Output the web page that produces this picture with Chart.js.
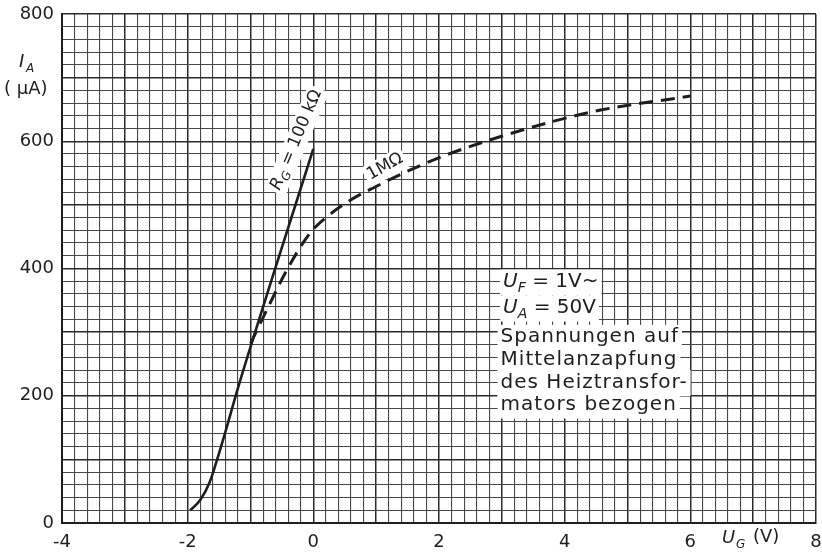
<!DOCTYPE html>
<html>
<head>
<meta charset="utf-8">
<script src="https://cdn.jsdelivr.net/npm/chart.js@4"></script>
<style>
  html, body { margin: 0; padding: 0; background: #fff; }
  #wrap { width: 822px; height: 556px; }
</style>
</head>
<body>
<div id="wrap"><canvas id="tubeChart" width="822" height="556"></canvas></div>
<script>
// Kennlinien I_A(U_G)
const rg100kX = [-1.96, -1.8, -1.65, -1.5, -1.38, -1.2, -0.6, 0.0];
const rg100kY = [20, 36, 64, 110, 150, 212, 402, 588];
const rg1MX = [-1.0, -0.74, -0.42, -0.05, 0.2, 0.6, 1.0, 1.5, 2.13, 2.97, 3.77, 4.57, 6.0];
const rg1MY = [282, 335, 398, 456, 480, 508, 529, 553, 579, 607, 630, 649, 671];
const xTickLabels = [-4, -2, 0, 2, 4, 6, 8];
const yTickLabels = [0, 200, 400, 600, 800];
const infoLines = ['Spannungen auf', 'Mittelanzapfung', 'des Heiztransfor-', 'mators bezogen'];

const FONT = '"DejaVu Sans", sans-serif';
const INK = '#1e1e1e';

function toPts(xs, ys) {
    return xs.map((x, i) => ({ x: x, y: ys[i] }));
}

function near(v, step) {
    return Math.abs(v / step - Math.round(v / step)) < 1e-6;
}

// Text mit weissem Hintergrund, optional gedreht; (x,y) = linke Mitte
function boxedText(ctx, parts, x, y, angle, size, spacing, center) {
    ctx.save();
    ctx.translate(x, y);
    ctx.rotate(angle * Math.PI / 180);
    ctx.letterSpacing = (spacing || 0) + 'px';
    const setFont = p => {
        ctx.font = (p.it ? 'italic ' : '') + (p.sub ? Math.round(size * 0.7) : size) + 'px ' + FONT;
    };
    let w = 0;
    parts.forEach(p => { setFont(p); w += ctx.measureText(p.t).width; });
    const x0 = center ? -w / 2 : 0;
    ctx.fillStyle = '#fff';
    ctx.fillRect(x0 - 3, -size * 0.62, w + 6, size * 1.3);
    let cx = x0;
    ctx.fillStyle = INK;
    ctx.textBaseline = 'middle';
    ctx.textAlign = 'left';
    parts.forEach(p => {
        setFont(p);
        ctx.fillText(p.t, cx, p.sub ? size * 0.32 : 0);
        cx += ctx.measureText(p.t).width;
    });
    ctx.restore();
}

const labelPlugin = {
    id: 'labels',
    afterDatasetsDraw(chart) {
        const ctx = chart.ctx;
        const xs = chart.scales.x, ys = chart.scales.y;
        const px = v => xs.getPixelForValue(v);
        const py = v => ys.getPixelForValue(v);

        boxedText(ctx, [{ t: 'R', it: true }, { t: 'G', it: true, sub: true }, { t: ' = 100 kΩ' }],
            px(-0.27), py(602), -67, 17, 0, true);
        boxedText(ctx, [{ t: '1MΩ' }], px(1.14), py(560), -29, 17, 0, true);

        boxedText(ctx, [{ t: 'U', it: true }, { t: 'F', it: true, sub: true }, { t: ' = 1V~' }],
            px(3.02), py(379), 0, 20, 0);
        boxedText(ctx, [{ t: 'U', it: true }, { t: 'A', it: true, sub: true }, { t: ' = 50V' }],
            px(3.02), py(338), 0, 20, 0);
        infoLines.forEach((s, i) => {
            boxedText(ctx, [{ t: s }], px(2.98), py(292 - i * 35.5), 0, 20, 1);
        });

        // Achsentitel
        ctx.save();
        ctx.fillStyle = INK;
        ctx.textBaseline = 'middle';
        ctx.font = 'italic 18px ' + FONT;
        ctx.fillText('I', 19, 62);
        ctx.font = 'italic 12px ' + FONT;
        ctx.fillText('A', 26, 69);
        ctx.font = '18px ' + FONT;
        ctx.fillText('( µA)', 4, 89);

        ctx.font = 'italic 18px ' + FONT;
        ctx.fillText('U', 722, 538);
        ctx.font = 'italic 12px ' + FONT;
        ctx.fillText('G', 736, 545);
        ctx.font = '18px ' + FONT;
        ctx.fillText('(V)', 753, 537);
        ctx.restore();
    }
};

new Chart(document.getElementById('tubeChart').getContext('2d'), {
    type: 'scatter',
    data: {
        datasets: [
            {
                label: 'RG = 100 kΩ',
                data: toPts(rg100kX, rg100kY),
                showLine: true,
                borderColor: INK,
                borderWidth: 2.6,
                pointRadius: 0,
                cubicInterpolationMode: 'monotone',
                fill: false
            },
            {
                label: '1 MΩ',
                data: toPts(rg1MX, rg1MY),
                showLine: true,
                borderColor: INK,
                borderWidth: 3,
                borderDash: [14, 8],
                pointRadius: 0,
                cubicInterpolationMode: 'monotone',
                fill: false
            }
        ]
    },
    options: {
        responsive: false,
        maintainAspectRatio: false,
        animation: false,
        layout: { padding: { left: 0, right: 6, top: 14, bottom: 0 } },
        plugins: { legend: { display: false }, tooltip: { enabled: false } },
        scales: {
            x: {
                type: 'linear', min: -4, max: 8,
                border: { color: INK, width: 2 },
                grid: {
                    color: c => near(c.tick.value, 1) ? '#2a2a2a' : '#474747',
                    lineWidth: c => near(c.tick.value, 1) ? 1.5 : 1.1,
                    drawTicks: false
                },
                ticks: {
                    stepSize: 0.2,
                    autoSkip: false,
                    maxRotation: 0,
                    padding: 9,
                    color: INK,
                    font: { family: FONT, size: 18 },
                    callback: v => xTickLabels.find(t => Math.abs(t - v) < 1e-6) !== undefined ? String(Math.round(v)) : ''
                },
                afterFit: s => { s.height = 33; s.paddingLeft = 0; s.paddingRight = 0; }
            },
            y: {
                type: 'linear', min: 0, max: 800,
                border: { color: INK, width: 2 },
                grid: {
                    color: c => near(c.tick.value, 100) ? '#2a2a2a' : '#474747',
                    lineWidth: c => near(c.tick.value, 100) ? 1.5 : 1.1,
                    drawTicks: false
                },
                ticks: {
                    stepSize: 20,
                    autoSkip: false,
                    padding: 8,
                    color: INK,
                    font: { family: FONT, size: 18 },
                    callback: v => yTickLabels.find(t => Math.abs(t - v) < 1e-6) !== undefined ? String(Math.round(v)) : ''
                },
                afterFit: s => { s.width = 62; s.paddingTop = 0; s.paddingBottom = 0; }
            }
        }
    },
    plugins: [labelPlugin]
});
</script>
</body>
</html>
